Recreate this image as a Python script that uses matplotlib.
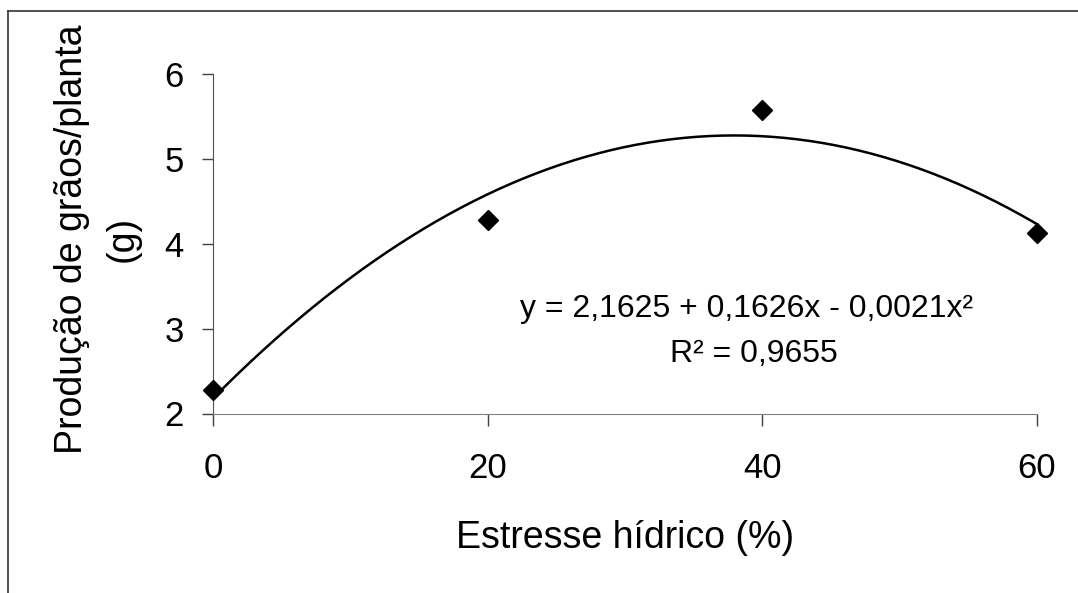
import matplotlib
matplotlib.use("Agg")
import matplotlib.pyplot as plt
import numpy as np

plt.rcParams['font.family'] = ['Liberation Sans', 'DejaVu Sans']

# dados
estresse = [0, 20, 40, 60]
producao = [2.28, 4.28, 5.57, 4.13]
x_ticks = [0, 20, 40, 60]
y_ticks = [2, 3, 4, 5, 6]
equacao = "y = 2,1625 + 0,1626x - 0,0021x²"
r2_texto = "R² = 0,9655"

W, H = 1078, 593


def main():
    fig = plt.figure(figsize=(W / 100, H / 100), dpi=100)
    ax = fig.add_axes([213 / W, 1 - 413.5 / H, 824 / W, 339.5 / H])

    # linha de tendência polinomial (2a ordem) ajustada aos pontos
    coef = np.polyfit(estresse, producao, 2)
    xs = np.linspace(min(estresse), max(estresse), 200)
    ax.plot(xs, np.polyval(coef, xs), color='black', lw=1.8, clip_on=False)

    ax.plot(estresse, producao, linestyle='none', marker='D', ms=10,
            color='black', clip_on=False, zorder=5)

    ax.set_xlim(0, 60)
    ax.set_ylim(2, 6)
    ax.set_xticks(x_ticks)
    ax.set_yticks(y_ticks)

    for s in ['top', 'right']:
        ax.spines[s].set_visible(False)
    ax.spines['bottom'].set_color('#808080')
    ax.spines['left'].set_color('#505050')
    ax.tick_params(axis='x', direction='out', length=8.5, width=1,
                   color='#404040', labelsize=25, pad=19)
    ax.tick_params(axis='y', direction='out', length=8, width=1,
                   color='#404040', labelsize=25, pad=13)

    # rótulos dos eixos
    fig.text(625 / W, 1 - 548 / H, "Estresse hídrico (%)", fontsize=27,
             ha='center', va='baseline')
    fig.text(72 / W, 1 - 239 / H, "Produção de grãos/planta", fontsize=27,
             rotation=90, ha='center', va='center')
    fig.text(123 / W, 1 - 239 / H, "(g)", fontsize=27,
             rotation=90, ha='center', va='center')

    # equação e R²
    fig.text(747 / W, 1 - 317 / H, equacao, fontsize=23,
             ha='center', va='baseline')
    fig.text(754 / W, 1 - 362 / H, r2_texto, fontsize=23,
             ha='center', va='baseline')

    # moldura do gráfico (só topo e esquerda aparecem)
    fig.add_artist(plt.Line2D([8 / W, 1], [1 - 11 / H, 1 - 11 / H],
                              color='#333333', lw=1.2))
    fig.add_artist(plt.Line2D([8 / W, 8 / W], [0, 1 - 11 / H],
                              color='#333333', lw=1.2))

    fig.savefig('out.png', dpi=100)


if __name__ == '__main__':
    main()
